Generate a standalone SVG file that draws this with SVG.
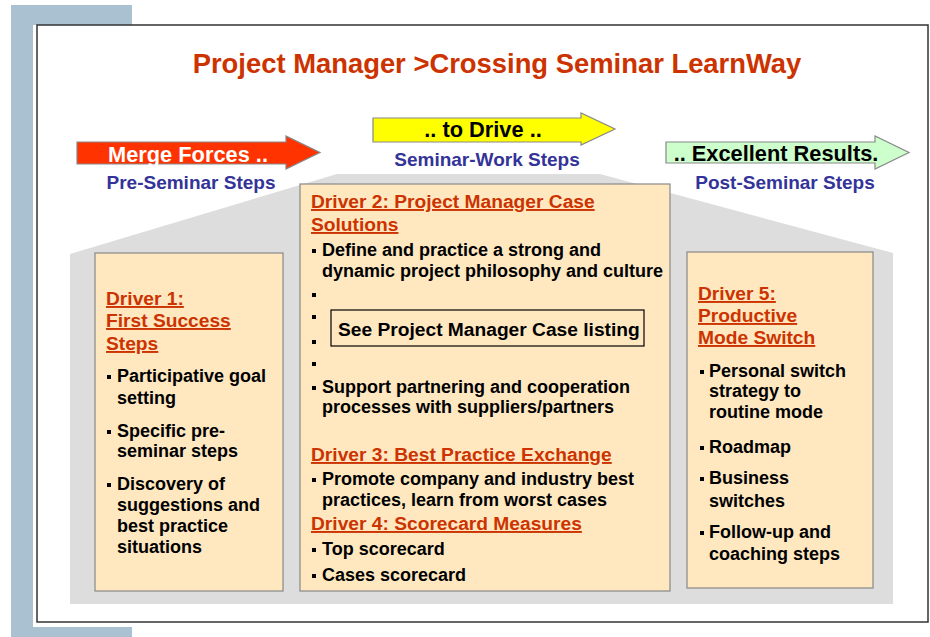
<svg xmlns="http://www.w3.org/2000/svg" width="930" height="637" viewBox="0 0 930 637">
<style>
.t{font-family:"Liberation Sans",Arial,sans-serif;font-weight:bold}
.h{font-size:19.2px;fill:#CC3300;text-decoration:underline}
.b{font-size:18px;fill:#000}
.sub{font-size:19px;fill:#333399;text-anchor:middle}
.ar{font-size:21.8px;text-anchor:middle}
.box{fill:#FFE8C0;stroke:#888;stroke-width:1.2}
.arr{stroke:#888;stroke-width:1.2}
</style>
<defs>
<rect id="bl" width="4" height="4" fill="#000"/>
</defs>
<rect x="11" y="5" width="121" height="632" fill="#A9C1D1"/>
<rect x="33" y="25" width="897" height="602" fill="#fff"/>
<rect x="37" y="25" width="891" height="597" fill="#fff" stroke="#333" stroke-width="1.5"/>
<text class="t" x="497" y="73" font-size="27.4" fill="#CC3300" text-anchor="middle">Project Manager &gt;Crossing Seminar LearnWay</text>
<polygon points="70,254 337,174 600,174 893,253 893,604 70,604" fill="#DDDDDD"/>
<g id="arrow-merge">
<polygon class="arr" points="77,142 286,142 286,136 320,152.5 286,169 286,164 77,164" fill="#FF3300"/>
<text class="t ar" x="188" y="162" fill="#fff">Merge Forces ..</text>
<text class="t sub" x="191" y="189">Pre-Seminar Steps</text>
</g>
<g id="arrow-drive">
<polygon class="arr" points="373,118 581,118 581,113 615,129 581,145 581,142 373,142" fill="#FFFF00"/>
<text class="t ar" x="483" y="137" fill="#000">.. to Drive ..</text>
<text class="t sub" x="487" y="166">Seminar-Work Steps</text>
</g>
<g id="arrow-results">
<polygon class="arr" points="666,142 875,142 875,136 909,152.5 875,169 875,163 666,163" fill="#CCFFCC"/>
<text class="t ar" x="776" y="161" fill="#000">.. Excellent Results.</text>
<text class="t sub" x="785" y="189">Post-Seminar Steps</text>
</g>
<g id="driver1">
<rect class="box" x="95" y="253" width="188" height="338"/>
<text class="t h" x="106" y="305">Driver 1:</text>
<text class="t h" x="106" y="327">First Success</text>
<text class="t h" x="106" y="350">Steps</text>
<use href="#bl" x="107" y="375"/>
<text class="t b" x="117" y="382">Participative goal</text>
<text class="t b" x="117" y="404">setting</text>
<use href="#bl" x="107" y="430"/>
<text class="t b" x="117" y="437">Specific pre-</text>
<text class="t b" x="117" y="457">seminar steps</text>
<use href="#bl" x="107" y="483"/>
<text class="t b" x="117" y="490">Discovery of</text>
<text class="t b" x="117" y="511">suggestions and</text>
<text class="t b" x="117" y="532">best practice</text>
<text class="t b" x="117" y="553">situations</text>
</g>
<g id="driver2">
<rect class="box" x="300" y="184" width="370" height="407"/>
<text class="t h" x="311" y="208">Driver 2: Project Manager Case</text>
<text class="t h" x="311" y="231">Solutions</text>
<use href="#bl" x="312" y="249"/>
<text class="t b" x="322" y="256">Define and practice a strong and</text>
<text class="t b" x="322" y="277">dynamic project philosophy and culture</text>
<use href="#bl" x="312" y="293"/>
<use href="#bl" x="312" y="315"/>
<use href="#bl" x="312" y="340"/>
<use href="#bl" x="312" y="362"/>
<use href="#bl" x="312" y="386"/>
<text class="t b" x="322" y="393">Support partnering and cooperation</text>
<text class="t b" x="322" y="413">processes with suppliers/partners</text>
<text class="t h" x="311" y="461">Driver 3: Best Practice Exchange</text>
<use href="#bl" x="312" y="478"/>
<text class="t b" x="322" y="485">Promote company and industry best</text>
<text class="t b" x="322" y="506">practices, learn from worst cases</text>
<text class="t h" x="311" y="530">Driver 4: Scorecard Measures</text>
<use href="#bl" x="312" y="548"/>
<text class="t b" x="322" y="555">Top scorecard</text>
<use href="#bl" x="312" y="574"/>
<text class="t b" x="322" y="581">Cases scorecard</text>
</g>
<g id="case-listing">
<rect x="331" y="310" width="313" height="36" fill="none" stroke="#000" stroke-width="1.2"/>
<text class="t" x="338" y="336" font-size="19.2" fill="#000">See Project Manager Case listing</text>
</g>
<g id="driver5">
<rect class="box" x="687" y="252" width="186" height="336"/>
<text class="t h" x="698" y="300">Driver 5:</text>
<text class="t h" x="698" y="322">Productive</text>
<text class="t h" x="698" y="344">Mode Switch</text>
<use href="#bl" x="700" y="370"/>
<text class="t b" x="709" y="377">Personal switch</text>
<text class="t b" x="709" y="397">strategy to</text>
<text class="t b" x="709" y="418">routine mode</text>
<use href="#bl" x="700" y="446"/>
<text class="t b" x="709" y="453">Roadmap</text>
<use href="#bl" x="700" y="477"/>
<text class="t b" x="709" y="484">Business</text>
<text class="t b" x="709" y="507">switches</text>
<use href="#bl" x="700" y="531"/>
<text class="t b" x="709" y="538">Follow-up and</text>
<text class="t b" x="709" y="560">coaching steps</text>
</g>
</svg>
